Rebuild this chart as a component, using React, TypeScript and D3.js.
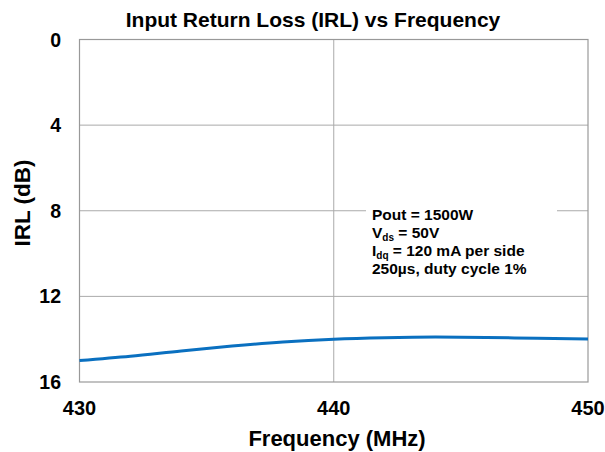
import React from "react";
import * as d3 from "d3";

const freqs = [430, 432, 434, 436, 438, 440, 442, 444, 446, 448, 450];
const irl = [15.0, 14.8, 14.55, 14.32, 14.13, 14.0, 13.93, 13.9, 13.92, 13.96, 13.99];
const xTicks = [430, 440, 450];
const yTicks = [0, 4, 8, 12, 16];
const notes = ["Pout = 1500W", "V|ds| = 50V", "I|dq| = 120 mA per side", "250µs, duty cycle 1%"];

const W = 605, H = 452;
const L = 79.5, R = 588, T = 39.5, B = 382;

export default function App() {
  const x = d3.scaleLinear().domain([430, 450]).range([L, R]);
  const y = d3.scaleLinear().domain([0, 16]).range([T, B]);
  const line = d3
    .line<number>()
    .x((_, i) => x(freqs[i]))
    .y((d) => y(d))
    .curve(d3.curveMonotoneX);
  const font = "Liberation Sans, Arial, sans-serif";
  return (
    <svg width={W} height={H} style={{ position: "absolute", left: 0, top: 0, background: "#fff" }} fontFamily={font} fontWeight="bold">
      <rect x={0} y={0} width={W} height={H} fill="#fff" />
      {yTicks.slice(1, -1).map((t) => (
        <line key={t} x1={L} x2={R} y1={y(t)} y2={y(t)} stroke="#aaa" strokeWidth={1} />
      ))}
      {xTicks.slice(1, -1).map((t) => (
        <line key={t} x1={x(t)} x2={x(t)} y1={T} y2={B} stroke="#aaa" strokeWidth={1} />
      ))}
      <rect x={L} y={T} width={R - L} height={B - T} fill="none" stroke="#999" strokeWidth={1.2} />
      <path d={line(irl) || ""} fill="none" stroke="#0a70c0" strokeWidth={3} />
      <text x={313} y={27} textAnchor="middle" fontSize={21}>Input Return Loss (IRL) vs Frequency</text>
      {yTicks.map((t) => (
        <text key={t} x={61} y={y(t) + 7} textAnchor="end" fontSize={19.5}>{t}</text>
      ))}
      {xTicks.map((t) => (
        <text key={t} x={x(t)} y={415} textAnchor="middle" fontSize={20}>{t}</text>
      ))}
      <text x={337} y={446} textAnchor="middle" fontSize={22}>Frequency (MHz)</text>
      <text transform={`translate(30,203) rotate(-90)`} textAnchor="middle" fontSize={22.5}>IRL (dB)</text>
      <rect x={366} y={204} width={191} height={80} fill="#fff" />
      {notes.map((n, i) => {
        const parts = n.split("|");
        return (
          <text key={i} x={372} y={220 + i * 18} fontSize={15.5}>
            {parts[0]}
            {parts.length > 1 && (
              <>
                <tspan fontSize={10} dy={3}>{parts[1]}</tspan>
                <tspan dy={-3}>{parts[2]}</tspan>
              </>
            )}
          </text>
        );
      })}
    </svg>
  );
}
